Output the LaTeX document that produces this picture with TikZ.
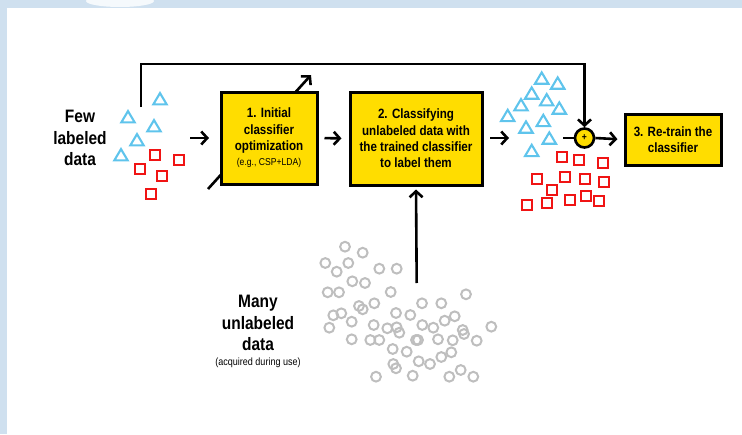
\documentclass[tikz,border=0pt]{standalone}
\usepackage{fontspec}
\setmainfont{Liberation Sans}[FakeStretch=0.86]
\usetikzlibrary{arrows.meta,calc}
\definecolor{band}{RGB}{207,224,239}
\definecolor{ylw}{RGB}{255,221,0}
\definecolor{tricol}{RGB}{95,196,236}
\definecolor{sqcol}{RGB}{240,20,20}
\definecolor{circol}{RGB}{190,190,190}
\tikzset{
  arr/.style={line width=2.6pt,-{Straight Barb[length=6pt,width=13pt,line width=2.6pt]}},
  plain/.style={line width=2.6pt},
  stepbox/.style={draw=black,line width=3pt,fill=ylw,align=center,inner sep=0pt,
     font=\bfseries\fontsize{13.5}{16.3}\selectfont},
  bigtxt/.style={align=center,inner sep=0pt,font=\bfseries\fontsize{18}{21.5}\selectfont},
  smalltxt/.style={align=center,inner sep=0pt,font=\fontsize{10.5}{12}\selectfont},
  tri/.style={draw=tricol,line width=2.1pt,line join=miter},
  sq/.style={draw=sqcol,line width=2.3pt},
  circ/.style={draw=circol,line width=2pt},
}
\begin{document}
\begin{tikzpicture}[x=1pt,y=-1pt]
\useasboundingbox (0,0) rectangle (742,434);
% background frame
\fill[band] (0,0) rectangle (742,8);
\fill[band] (0,0) rectangle (7,434);
\fill[white!80!band] (120,1) ellipse (34 and 6);

% coordinates for free ends
\coordinate (fb) at (141,107);
\coordinate (fbtop) at (141,64);
\coordinate (d1) at (208,189);
\coordinate (d2) at (311,75);
\coordinate (a1s) at (190,138);
\coordinate (a1e) at (209,138);
\coordinate (a3s) at (490,138);
\coordinate (a3e) at (509,138);
\coordinate (pin) at (563,138);
\coordinate (u1) at (416.7,283);

% diagonal arrow (behind box 1)
\draw[arr] (d1) -- (d2);

% boxes
\node[stepbox,minimum width=96pt,minimum height=92pt] (box1) at (269,138)
  {1. Initial\\classifier\\optimization\\[-1pt]{\mdseries\fontsize{10}{12}\selectfont (e.g., CSP+LDA)}};
\node[stepbox,minimum width=132pt,minimum height=93pt] (box2) at (416,138.5)
  {2. Classifying\\unlabeled data with\\the trained classifier\\to label them};
\node[stepbox,minimum width=96pt,minimum height=51pt] (box3) at (673,139.5)
  {3. Re-train the\\classifier};
\node[circle,draw=black,line width=2.6pt,fill=ylw,minimum size=19pt,inner sep=0pt,
  font=\bfseries\fontsize{10}{10}\selectfont] (plus) at (584.5,138) {+};

% texts
\node[bigtxt] (few) at (80,138) {Few\\labeled\\data};
\node[bigtxt] (many) at (258,323) {Many\\unlabeled\\data};
\node[smalltxt] (acq) at (258,363) {(acquired during use)};

% connectors
\draw[arr] (a1s) -- (a1e);
\draw[arr,shorten <=6pt,shorten >=7pt] (box1.east) -- (box2.west);
\draw[arr] (a3s) -- (a3e);
\draw[plain] (pin) -- (plus.west);
\draw[arr,shorten >=6pt] (plus.east) -- (box3.west);
\draw[arr,line join=miter] (fb) -- (fbtop) -| (plus.north);
\draw[arr,shorten >=3pt] (u1) -- (box2.south);

% left triangles
\foreach \x/\y in {160/100,128/118,154/127,137/141,121/156}
  \draw[tri] (\x,\y) +(-6.7,4.4) -- +(0,-6.9) -- +(6.7,4.4) -- cycle;
% left squares
\foreach \x/\y in {155/155,179/160,140/169,162/176,151/194}
  \draw[sq] (\x-5,\y-5) rectangle +(10,10);

% right triangles
\foreach \x/\y in {541.7/79.3,557.7/84.3,531.7/94.3,546.7/101,521/106,559.3/109.3,507.7/116.7,543.3/121.7,526/128.3,549.3/139.3,531.7/151.7}
  \draw[tri] (\x,\y) +(-6.7,4.4) -- +(0,-6.9) -- +(6.7,4.4) -- cycle;
% right squares
\foreach \x/\y in {562.3/156.7,579/160,602.7/162.7,536.7/179.3,565/176.7,585/179,604/181.7,551.7/190,527.3/205,546.7/203.3,570/200,586/195.7,598.7/201}
  \draw[sq] (\x-5,\y-5) rectangle +(10,10);

% unlabeled circles
\foreach \x/\y in {345/246.7,362.7/252.7,325.3/263,348.3/263,336.7/271.7,379.3/268.7,396.7/268.7,
  352.3/281.3,365/283,327.7/292.3,339/292.3,390.7/292,466/294.3,359/306,362.7/309.3,374.3/303.3,
  422/303.3,441.3/303.3,333.3/315.3,341.3/313.3,396/313,410.3/315,454.7/316.3,444.7/320.7,
  351.7/321.7,373.7/325,329.3/327.7,387.3/328.3,396.7/327.3,399.3/332.7,422.3/325,433.3/327.7,
  462.7/330,464/334,491.3/326.7,351.7/339.3,370.3/340,379.3/340,416/340,418/340,438/339.3,
  452.7/340.3,476.7/340.7,392.7/349,406.7/351.7,451.3/352.3,441.3/357,418.7/361.3,430/364,
  393.3/364,396/368.3,376/376.7,412.7/375.7,449.3/376.7,460.7/370,473.3/376.7}
  \draw[circ] (\x,\y) circle (4.9);
\end{tikzpicture}
\end{document}
